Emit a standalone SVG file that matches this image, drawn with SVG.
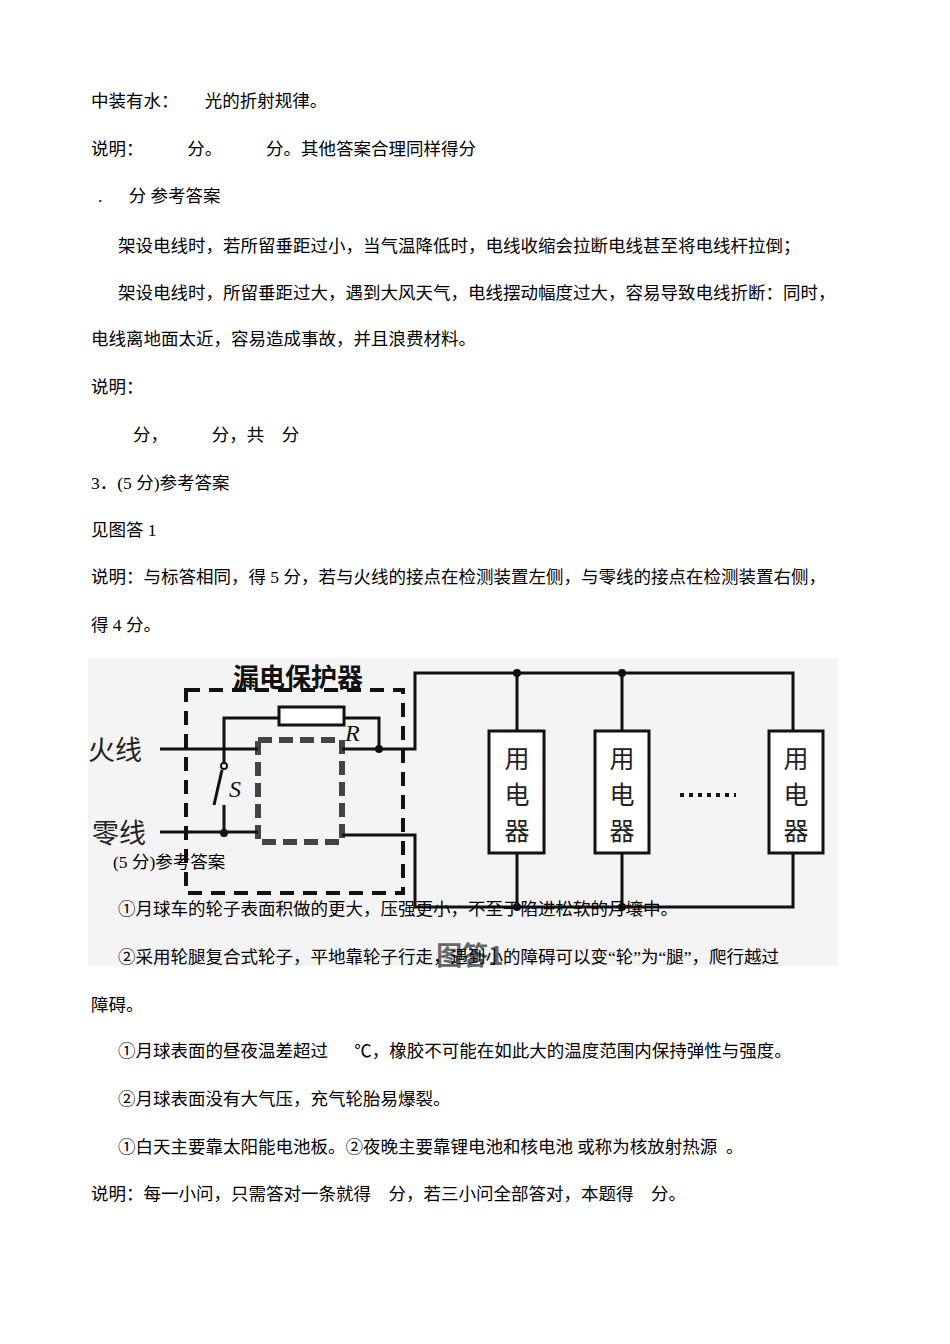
<svg xmlns="http://www.w3.org/2000/svg" width="950" height="1344" viewBox="0 0 950 1344">
<style>
.t{font-family:"Liberation Serif","Noto Sans CJK SC",serif;font-size:17.5px;fill:#000;white-space:pre}
.w{fill:none;stroke:#111;stroke-width:3}
.d{fill:none;stroke:#111;stroke-width:4;stroke-dasharray:14,9}
.c{font-family:"Noto Sans CJK SC",sans-serif;font-size:27px;fill:#222}
.u{font-family:"Noto Sans CJK SC",sans-serif;font-size:25px;fill:#222}
</style>
<rect width="950" height="1344" fill="#fff"/>
<rect x="88" y="658" width="750" height="308" fill="#f4f4f4"/>
<g id="text-top">
<text class="t" x="91" y="107" xml:space="preserve">中装有水：      光的折射规律。</text>
<text class="t" x="91" y="155" xml:space="preserve">说明：          分。          分。其他答案合理同样得分</text>
<text class="t" x="98" y="202" xml:space="preserve">.      分 参考答案</text>
<text class="t" x="118" y="252">架设电线时，若所留垂距过小，当气温降低时，电线收缩会拉断电线甚至将电线杆拉倒；</text>
<text class="t" x="118" y="299">架设电线时，所留垂距过大，遇到大风天气，电线摆动幅度过大，容易导致电线折断：同时，</text>
<text class="t" x="91" y="345">电线离地面太近，容易造成事故，并且浪费材料。</text>
<text class="t" x="91" y="393">说明：</text>
<text class="t" x="133" y="441" xml:space="preserve">分，          分，共    分</text>
<text class="t" x="91" y="489">3．(5 分)参考答案</text>
<text class="t" x="91" y="536">见图答 1</text>
<text class="t" x="91" y="583">说明：与标答相同，得 5 分，若与火线的接点在检测装置左侧，与零线的接点在检测装置右侧，</text>
<text class="t" x="91" y="631">得 4 分。</text>
</g>
<g id="circuit">
<text x="298" y="687" text-anchor="middle" font-family="Noto Sans CJK SC,sans-serif" font-weight="bold" font-size="26" fill="#111">漏电保护器</text>
<rect class="d" x="186" y="690" width="217" height="203"/>
<rect x="258" y="740" width="84" height="102" fill="none" stroke="#444" stroke-width="6" stroke-dasharray="14,7"/>
<rect x="261" y="743" width="78" height="96" fill="#f4f4f4"/>
<text class="c" x="88" y="760">火线</text>
<text class="c" x="92" y="843">零线</text>
<polyline class="w" points="160,749 258,749"/>
<polyline class="w" points="342,749 415,749 415,673 793,673 793,731"/>
<polyline class="w" points="224,766 224,718 279,718"/>
<rect x="279" y="707" width="65" height="18" fill="#fff" stroke="#111" stroke-width="3"/>
<polyline class="w" points="344,718 379,718 379,749"/>
<circle cx="379" cy="749" r="4" fill="#111"/>
<circle cx="224" cy="766" r="3" fill="#fff" stroke="#111" stroke-width="2"/>
<line class="w" x1="222" y1="770" x2="214" y2="805"/>
<polyline class="w" points="224,805 224,833"/>
<circle cx="224" cy="833" r="4" fill="#111"/>
<polyline class="w" points="160,832 258,832"/>
<polyline class="w" points="342,835 415,835 415,907 793,907 793,853"/>
<text x="229" y="797" font-family="Liberation Serif,serif" font-style="italic" font-size="24" fill="#111">S</text>
<text x="345" y="741" font-family="Liberation Serif,serif" font-style="italic" font-size="24" fill="#111">R</text>
<line class="w" x1="517" y1="673" x2="517" y2="731"/><line class="w" x1="517" y1="853" x2="517" y2="907"/>
<line class="w" x1="622" y1="673" x2="622" y2="731"/><line class="w" x1="622" y1="853" x2="622" y2="907"/>
<circle cx="517" cy="673" r="4" fill="#111"/><circle cx="622" cy="673" r="4" fill="#111"/>
<circle cx="517" cy="907" r="4" fill="#111"/><circle cx="622" cy="907" r="4" fill="#111"/>
<g id="dev1"><rect x="489" y="731" width="55" height="122" fill="#fff" stroke="#111" stroke-width="3"/>
<text class="u" x="517" y="768" text-anchor="middle">用</text><text class="u" x="517" y="804" text-anchor="middle">电</text><text class="u" x="517" y="840" text-anchor="middle">器</text></g>
<g id="dev2"><rect x="595" y="731" width="54" height="122" fill="#fff" stroke="#111" stroke-width="3"/>
<text class="u" x="622" y="768" text-anchor="middle">用</text><text class="u" x="622" y="804" text-anchor="middle">电</text><text class="u" x="622" y="840" text-anchor="middle">器</text></g>
<g id="dev3"><rect x="769" y="731" width="54" height="122" fill="#fff" stroke="#111" stroke-width="3"/>
<text class="u" x="796" y="768" text-anchor="middle">用</text><text class="u" x="796" y="804" text-anchor="middle">电</text><text class="u" x="796" y="840" text-anchor="middle">器</text></g>
<line x1="680" y1="795" x2="736" y2="795" stroke="#111" stroke-width="4" stroke-dasharray="4,5"/>
<text x="470" y="965" text-anchor="middle" font-family="Noto Sans CJK SC,sans-serif" font-weight="bold" font-size="26" fill="#666">图答1</text>
</g>
<g id="text-bottom">
<text class="t" x="113" y="868">(5 分)参考答案</text>
<text class="t" x="118" y="915">①月球车的轮子表面积做的更大，压强更小，不至于陷进松软的月壤中。</text>
<text class="t" x="118" y="963">②采用轮腿复合式轮子，平地靠轮子行走，遇到小的障碍可以变“轮”为“腿”，爬行越过</text>
<text class="t" x="91" y="1011">障碍。</text>
<text class="t" x="118" y="1057" xml:space="preserve">①月球表面的昼夜温差超过      ℃，橡胶不可能在如此大的温度范围内保持弹性与强度。</text>
<text class="t" x="118" y="1105">②月球表面没有大气压，充气轮胎易爆裂。</text>
<text class="t" x="118" y="1153" xml:space="preserve">①白天主要靠太阳能电池板。②夜晚主要靠锂电池和核电池 或称为核放射热源  。</text>
<text class="t" x="91" y="1200" xml:space="preserve">说明：每一小问，只需答对一条就得    分，若三小问全部答对，本题得    分。</text>
</g>
</svg>
